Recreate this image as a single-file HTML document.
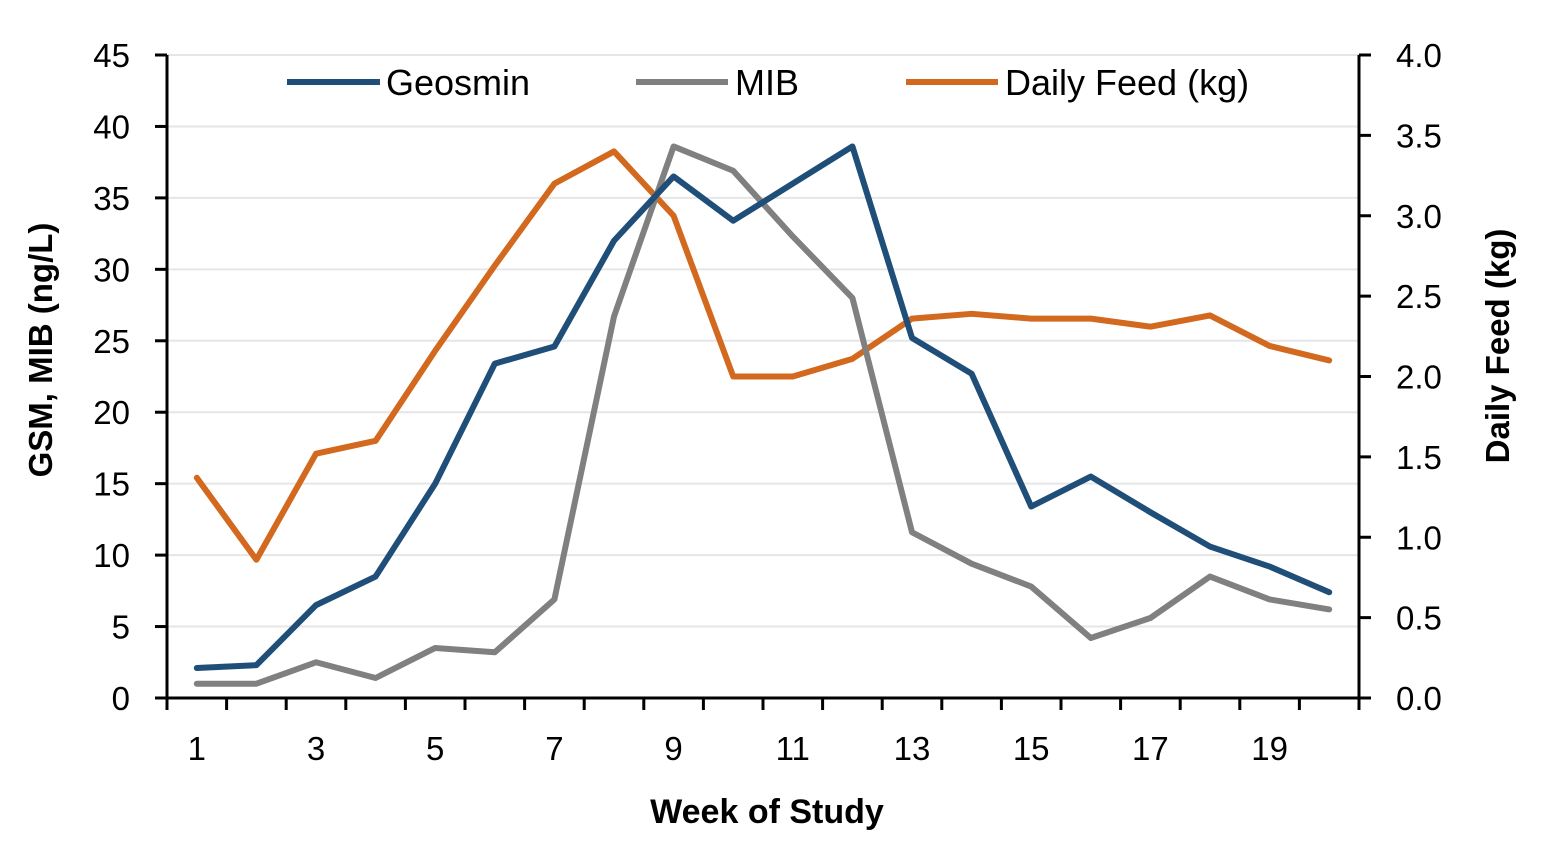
<!DOCTYPE html>
<html><head><meta charset="utf-8"><style>
html,body{margin:0;padding:0;background:#fff;}
svg{display:block;font-family:"Liberation Sans",sans-serif;}
</style></head><body>
<svg id="chart" width="1543" height="851" viewBox="0 0 1543 851"></svg>
<script>
const weeks=[1,2,3,4,5,6,7,8,9,10,11,12,13,14,15,16,17,18,19,20];
const geosmin=[2.1,2.3,6.5,8.5,15.0,23.4,24.6,32.0,36.5,33.4,36.0,38.6,25.2,22.7,13.4,15.5,13.0,10.6,9.2,7.4];
const mib=[1.0,1.0,2.5,1.4,3.5,3.2,6.9,26.7,38.6,36.9,32.3,28.0,11.6,9.4,7.8,4.2,5.6,8.5,6.9,6.2];
const feed=[1.37,0.86,1.52,1.60,2.16,2.69,3.20,3.40,3.00,2.00,2.00,2.11,2.36,2.39,2.36,2.36,2.31,2.38,2.19,2.10];
const leftTicks=[0,5,10,15,20,25,30,35,40,45];
const rightTicks=["0.0","0.5","1.0","1.5","2.0","2.5","3.0","3.5","4.0"];

const NS="http://www.w3.org/2000/svg";
const svg=document.getElementById('chart');
const X0=167,X1=1359,Y0=698,Y1=55;
const bw=(X1-X0)/weeks.length;
const xs=i=>X0+bw*(i+0.5);
const yL=v=>Y0-(v/45)*(Y0-Y1);
const yR=v=>Y0-(v/4)*(Y0-Y1);
function mk(tag,attrs,parent){const e=document.createElementNS(NS,tag);for(const k in attrs)e.setAttribute(k,attrs[k]);(parent||svg).appendChild(e);return e;}

const grid=mk('g',{});


leftTicks.forEach(t=>{if(t>0){const l=mk('line',{x1:X0,x2:X1,y1:yL(t),y2:yL(t),stroke:'#e6e6e6','stroke-width':2},grid);}});

const ax=mk('g',{stroke:'#000','stroke-width':3});


mk('line',{x1:X0,x2:X0,y1:Y1,y2:Y0},ax);
mk('line',{x1:X1,x2:X1,y1:Y1,y2:Y0},ax);
mk('line',{x1:X0-12,x2:X1+12,y1:Y0,y2:Y0},ax);
leftTicks.forEach(t=>{mk('line',{x1:X0-12,x2:X0,y1:yL(t),y2:yL(t)},ax);
 const tx=mk('text',{x:X0-37,y:yL(t)+12,'text-anchor':'end','font-size':33,fill:'#000',stroke:'none'});tx.textContent=t;
 });
rightTicks.forEach((t,i)=>{const v=parseFloat(t);mk('line',{x1:X1,x2:X1+12,y1:yR(v),y2:yR(v)},ax);
 const tx=mk('text',{x:X1+37,y:yR(v)+12,'text-anchor':'start','font-size':33,fill:'#000',stroke:'none'});tx.textContent=t;
 });
for(let i=0;i<=weeks.length;i++){mk('line',{x1:X0+bw*i,x2:X0+bw*i,y1:Y0,y2:Y0+12},ax);}
weeks.forEach((w,i)=>{if(w%2===1){const tx=mk('text',{x:xs(i),y:760,'text-anchor':'middle','font-size':33,fill:'#000',stroke:'none'});tx.textContent=w;
 }});

function series(vals,yf,color,name){const p=mk('polyline',{points:vals.map((v,i)=>xs(i)+','+yf(v)).join(' '),fill:'none',stroke:color,'stroke-width':6,'stroke-linejoin':'round','stroke-linecap':'round'});
 }
series(feed,yR,'#d2691e','daily-feed-line');
series(mib,yL,'#808080','mib-line');
series(geosmin,yL,'#1f4e79','geosmin-line');
</script>
<div style="position:absolute;left:0;top:0;width:1543px;height:851px;pointer-events:none">
<svg width="1543" height="851" style="position:absolute;left:0;top:0">
<g font-size="36">
<g><line x1="287" x2="380" y1="82" y2="82" stroke="#1f4e79" stroke-width="6"/><text x="386" y="95">Geosmin</text></g>
<g><line x1="636" x2="728" y1="82" y2="82" stroke="#808080" stroke-width="6"/><text x="735" y="95">MIB</text></g>
<g><line x1="906" x2="998" y1="82" y2="82" stroke="#d2691e" stroke-width="6"/><text x="1005" y="95">Daily Feed (kg)</text></g>
</g>
<text x="767" y="823" text-anchor="middle" font-size="34" font-weight="bold">Week of Study</text>
<text transform="translate(52,350) rotate(-90)" text-anchor="middle" font-size="33" font-weight="bold">GSM, MIB (ng/L)</text>
<text transform="translate(1509,346) rotate(-90)" text-anchor="middle" font-size="33" font-weight="bold">Daily Feed (kg)</text>
</svg></div>
</body></html>
